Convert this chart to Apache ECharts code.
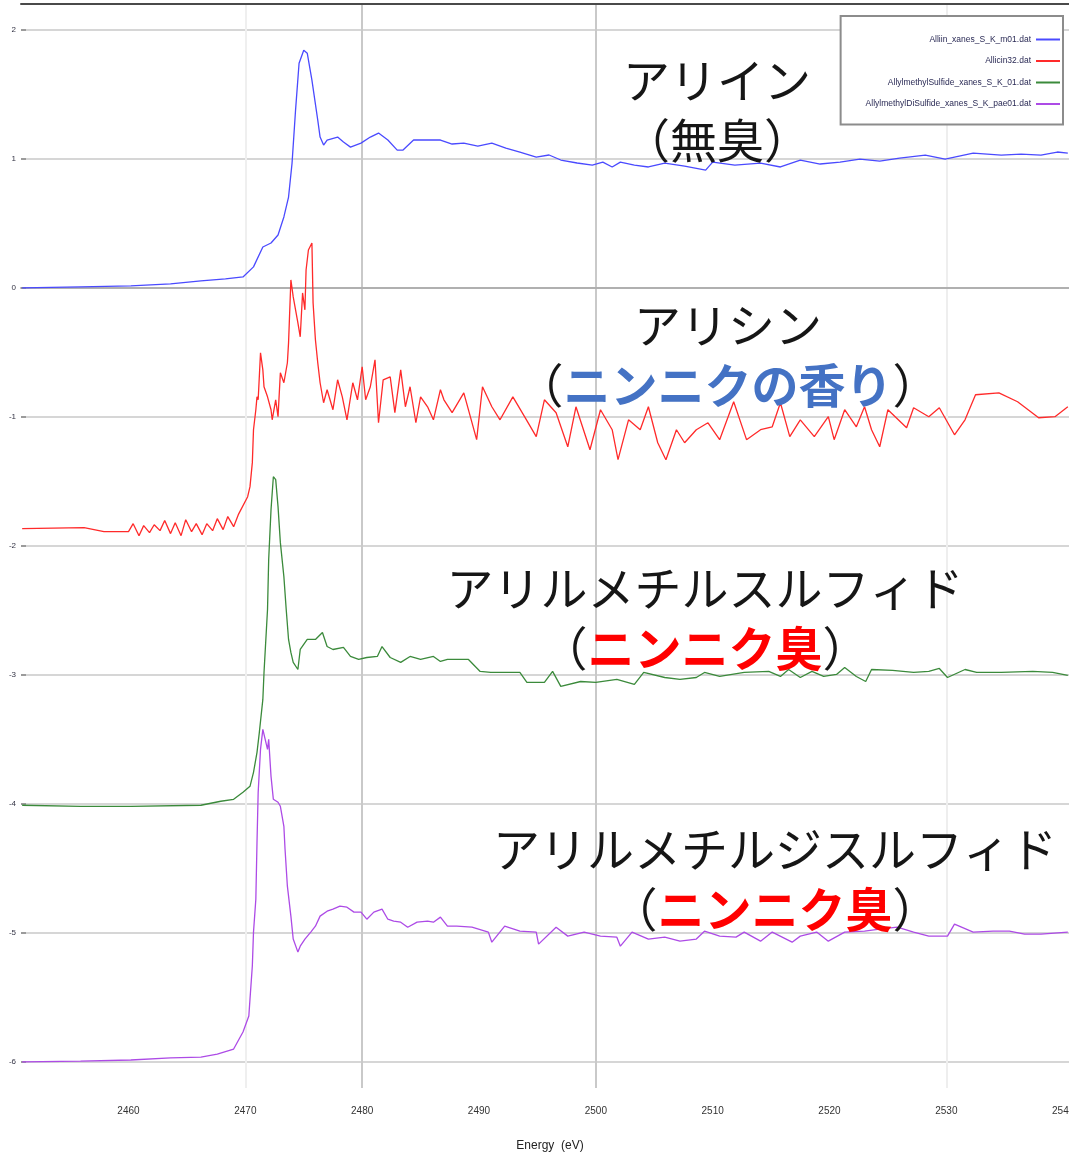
<!DOCTYPE html>
<html>
<head>
<meta charset="utf-8">
<title>S K-edge XANES</title>
<script src="https://cdn.jsdelivr.net/npm/echarts@6/dist/echarts.min.js"></script>
<style>
  html, body { margin: 0; padding: 0; background: #ffffff; overflow: hidden; }
  #chart { width: 1069px; height: 1156px; }
</style>
</head>
<body>
<div id="chart"></div>
<script>
// Axis ticks
const xTicks = [2460, 2470, 2480, 2490, 2500, 2510, 2520, 2530, 2540];
const yTicks = [-6, -5, -4, -3, -2, -1, 0, 1, 2];

// Series names (data files)
const seriesNames = [
  'Alliin_xanes_S_K_m01.dat',
  'Allicin32.dat',
  'AllylmethylSulfide_xanes_S_K_01.dat',
  'AllylmethylDiSulfide_xanes_S_K_pae01.dat'
];

// Alliin (offset 0)
const alliinEnergy = [2450.9, 2455.9, 2460.2, 2463.6, 2466.2, 2468.3, 2469.8, 2470.7, 2471.5, 2472.2, 2472.8, 2473.3, 2473.7, 2474.0, 2474.3, 2474.6, 2475.0, 2475.3, 2475.7, 2476.2, 2476.4, 2476.7, 2477.0, 2477.9, 2478.4, 2479.0, 2479.9, 2480.7, 2481.4, 2482.2, 2483.0, 2483.5, 2484.4, 2485.6, 2486.7, 2487.7, 2488.7, 2489.9, 2491.1, 2492.3, 2493.5, 2494.9, 2496.0, 2497.0, 2498.4, 2499.7, 2500.6, 2501.4, 2502.1, 2503.3, 2504.5, 2505.9, 2507.6, 2509.4, 2510.0, 2511.9, 2514.1, 2515.8, 2517.5, 2519.2, 2520.9, 2522.6, 2524.3, 2526.0, 2528.2, 2529.9, 2532.3, 2534.7, 2536.4, 2538.1, 2539.5, 2540.4];
const alliinAbs = [0.000, 0.008, 0.015, 0.031, 0.054, 0.070, 0.085, 0.163, 0.317, 0.348, 0.410, 0.550, 0.704, 0.967, 1.378, 1.741, 1.842, 1.819, 1.610, 1.300, 1.169, 1.107, 1.146, 1.169, 1.130, 1.091, 1.122, 1.169, 1.200, 1.146, 1.068, 1.068, 1.146, 1.146, 1.146, 1.115, 1.122, 1.099, 1.122, 1.084, 1.053, 1.014, 1.030, 0.991, 0.968, 0.952, 0.975, 0.937, 0.975, 0.952, 0.937, 0.967, 0.944, 0.913, 0.975, 0.952, 0.967, 0.937, 0.991, 0.960, 0.975, 0.998, 0.983, 1.006, 1.029, 0.998, 1.045, 1.029, 1.037, 1.029, 1.053, 1.045];

// Allicin (offset -2)
const allicinEnergy = [2450.9, 2456.2, 2457.9, 2460.0, 2460.4, 2460.9, 2461.3, 2461.8, 2462.2, 2462.7, 2463.1, 2463.6, 2464.0, 2464.5, 2464.9, 2465.4, 2465.8, 2466.3, 2466.7, 2467.2, 2467.6, 2468.1, 2468.5, 2469.0, 2469.4, 2470.2, 2470.4, 2470.6, 2470.7, 2470.9, 2471.0, 2471.1, 2471.3, 2471.5, 2471.6, 2471.9, 2472.2, 2472.3, 2472.6, 2472.8, 2473.0, 2473.3, 2473.6, 2473.7, 2473.9, 2474.1, 2474.5, 2474.7, 2474.9, 2475.1, 2475.2, 2475.4, 2475.7, 2475.8, 2476.0, 2476.2, 2476.4, 2476.7, 2477.0, 2477.5, 2477.9, 2478.3, 2478.7, 2479.2, 2479.6, 2480.0, 2480.3, 2480.7, 2481.1, 2481.4, 2481.8, 2482.4, 2482.8, 2483.3, 2483.7, 2484.1, 2484.6, 2485.0, 2485.6, 2486.1, 2486.7, 2487.0, 2487.7, 2488.7, 2489.8, 2490.3, 2491.1, 2491.8, 2492.9, 2493.9, 2494.9, 2495.6, 2496.6, 2497.6, 2498.3, 2499.5, 2500.4, 2501.4, 2501.9, 2502.8, 2503.8, 2504.5, 2505.3, 2506.0, 2506.9, 2507.6, 2508.6, 2509.6, 2510.6, 2511.8, 2512.9, 2514.1, 2515.1, 2515.8, 2516.6, 2517.5, 2518.7, 2519.9, 2520.4, 2521.3, 2522.3, 2523.0, 2523.6, 2524.3, 2525.0, 2526.6, 2527.2, 2528.5, 2529.4, 2530.7, 2531.6, 2532.5, 2534.5, 2536.1, 2537.9, 2539.3, 2540.4];
const allicinAbs = [-1.865, -1.858, -1.889, -1.889, -1.827, -1.920, -1.842, -1.896, -1.835, -1.881, -1.803, -1.904, -1.819, -1.920, -1.796, -1.889, -1.827, -1.912, -1.827, -1.881, -1.788, -1.873, -1.772, -1.850, -1.757, -1.618, -1.540, -1.354, -1.099, -0.944, -0.844, -0.867, -0.503, -0.635, -0.766, -0.844, -0.944, -1.022, -0.867, -0.998, -0.658, -0.735, -0.580, -0.426, 0.062, -0.070, -0.271, -0.379, -0.039, -0.170, 0.139, 0.294, 0.348, -0.116, -0.402, -0.580, -0.735, -0.890, -0.789, -0.944, -0.712, -0.844, -1.022, -0.735, -0.867, -0.611, -0.867, -0.766, -0.557, -1.045, -0.712, -0.689, -0.967, -0.635, -0.921, -0.766, -1.045, -0.844, -0.921, -1.022, -0.789, -0.867, -0.967, -0.813, -1.176, -0.766, -0.921, -1.022, -0.844, -0.998, -1.153, -0.867, -0.967, -1.231, -0.921, -1.254, -0.944, -1.099, -1.331, -1.022, -1.099, -0.921, -1.200, -1.331, -1.099, -1.200, -1.099, -1.045, -1.176, -0.882, -1.176, -1.099, -1.076, -0.890, -1.153, -1.022, -1.153, -0.998, -1.176, -0.944, -1.076, -0.921, -1.099, -1.231, -0.944, -1.084, -0.929, -0.998, -0.929, -1.138, -1.022, -0.828, -0.813, -0.882, -1.006, -0.998, -0.921];

// Allyl methyl sulfide (offset -4)
const amsEnergy = [2450.9, 2455.9, 2460.2, 2466.2, 2467.9, 2469.0, 2469.8, 2470.4, 2470.7, 2471.0, 2471.2, 2471.5, 2471.6, 2471.9, 2472.0, 2472.2, 2472.4, 2472.6, 2472.8, 2473.0, 2473.3, 2473.5, 2473.7, 2473.9, 2474.1, 2474.5, 2474.7, 2475.3, 2476.0, 2476.6, 2477.0, 2477.5, 2478.4, 2479.0, 2479.7, 2480.4, 2481.3, 2481.7, 2482.4, 2483.3, 2484.1, 2485.0, 2486.1, 2486.7, 2487.3, 2489.1, 2490.1, 2491.0, 2491.8, 2493.5, 2494.1, 2495.6, 2496.3, 2497.0, 2498.7, 2500.0, 2501.8, 2503.3, 2504.1, 2505.9, 2507.2, 2508.6, 2509.3, 2510.6, 2512.7, 2514.8, 2515.8, 2516.5, 2517.5, 2518.5, 2519.5, 2520.6, 2521.3, 2522.3, 2523.1, 2523.6, 2525.4, 2527.2, 2528.5, 2529.4, 2530.1, 2531.6, 2532.6, 2534.7, 2537.4, 2539.1, 2540.4];
const amsAbs = [-4.009, -4.017, -4.017, -4.009, -3.978, -3.963, -3.909, -3.862, -3.754, -3.599, -3.444, -3.189, -2.980, -2.492, -2.105, -1.718, -1.463, -1.486, -1.695, -1.974, -2.237, -2.492, -2.724, -2.825, -2.902, -2.957, -2.802, -2.724, -2.724, -2.670, -2.779, -2.802, -2.786, -2.856, -2.879, -2.864, -2.856, -2.779, -2.864, -2.902, -2.856, -2.879, -2.856, -2.895, -2.879, -2.879, -2.972, -2.980, -2.980, -2.980, -3.057, -3.057, -2.972, -3.088, -3.050, -3.057, -3.034, -3.073, -2.980, -3.019, -3.034, -3.019, -2.980, -3.011, -2.980, -2.972, -3.011, -2.957, -3.019, -2.972, -3.011, -2.995, -2.941, -3.011, -3.050, -2.957, -2.964, -2.980, -2.972, -2.949, -3.019, -2.957, -2.980, -2.980, -2.972, -2.980, -3.003];

// Allyl methyl disulfide (offset -6)
const amdsEnergy = [2450.9, 2455.9, 2460.2, 2463.6, 2466.2, 2467.6, 2469.0, 2469.8, 2470.3, 2470.4, 2470.6, 2470.7, 2470.9, 2471.0, 2471.1, 2471.3, 2471.5, 2471.6, 2471.9, 2472.0, 2472.2, 2472.4, 2472.8, 2473.0, 2473.3, 2473.4, 2473.6, 2473.9, 2474.1, 2474.5, 2474.7, 2475.1, 2475.6, 2476.0, 2476.4, 2477.0, 2477.5, 2478.1, 2478.7, 2479.3, 2479.9, 2480.4, 2481.0, 2481.7, 2482.2, 2482.7, 2483.3, 2483.9, 2484.7, 2485.6, 2486.1, 2486.7, 2487.3, 2488.1, 2489.4, 2490.8, 2491.1, 2492.2, 2493.5, 2494.9, 2495.1, 2496.6, 2497.6, 2499.0, 2500.4, 2501.8, 2502.1, 2503.1, 2504.5, 2505.9, 2507.2, 2508.6, 2509.3, 2510.6, 2512.0, 2512.7, 2514.1, 2515.1, 2516.8, 2517.5, 2518.9, 2519.9, 2521.3, 2523.0, 2524.3, 2525.8, 2527.2, 2528.5, 2530.1, 2530.7, 2532.3, 2534.0, 2535.4, 2536.7, 2538.1, 2540.4];
const amdsAbs = [-5.998, -5.991, -5.983, -5.967, -5.960, -5.937, -5.898, -5.766, -5.642, -5.511, -5.255, -4.992, -4.737, -4.296, -3.909, -3.576, -3.421, -3.406, -3.576, -3.498, -3.785, -3.963, -3.986, -4.017, -4.172, -4.350, -4.636, -4.868, -5.046, -5.147, -5.101, -5.046, -4.992, -4.946, -4.868, -4.830, -4.814, -4.791, -4.799, -4.837, -4.837, -4.892, -4.837, -4.814, -4.892, -4.907, -4.915, -4.954, -4.915, -4.907, -4.915, -4.876, -4.946, -4.946, -4.954, -4.992, -5.070, -4.946, -4.985, -4.992, -5.085, -4.954, -5.023, -4.992, -5.023, -5.031, -5.101, -4.992, -5.046, -5.031, -5.062, -5.046, -4.985, -5.023, -5.031, -4.992, -5.062, -4.992, -5.070, -5.023, -4.992, -5.062, -4.992, -4.985, -4.969, -4.954, -4.992, -5.023, -5.023, -4.930, -4.992, -4.985, -4.985, -5.008, -5.008, -4.992];

const seriesColors = ['#4a4aff', '#ff2a2a', '#3b8a3b', '#ad4be6'];
const seriesEnergy = [alliinEnergy, allicinEnergy, amsEnergy, amdsEnergy];
const seriesAbs = [alliinAbs, allicinAbs, amsAbs, amdsAbs];

function pairs(xs, ys) {
  return xs.map((x, i) => [x, ys[i]]);
}

// Compound labels drawn beside each spectrum
const jpFont = '"Noto Sans CJK JP"';
const rich = {
  k: { fontFamily: jpFont, fontSize: 47, fill: '#161616', lineHeight: 60 },
  b: { fontFamily: jpFont, fontSize: 47, fontWeight: 'bold', fill: '#4472c4', lineHeight: 60 },
  r: { fontFamily: jpFont, fontSize: 47, fontWeight: 'bold', fill: '#ff0000', lineHeight: 60 }
};
function anno(x, y, text) {
  return {
    type: 'text', x: x, y: y, z: 100,
    style: { text: text, rich: rich, fontFamily: jpFont, fontSize: 47, fill: '#161616', align: 'center', verticalAlign: 'middle' }
  };
}

const chart = echarts.init(document.getElementById('chart'), null, { renderer: 'canvas' });

const xMin = 2450.8, xMax = 2540.5;
const gridCol = ['rgba(0,0,0,0)', '#efefef', '#c9c9c9', 'rgba(0,0,0,0)', '#c9c9c9', 'rgba(0,0,0,0)', 'rgba(0,0,0,0)', '#eeeeee', 'rgba(0,0,0,0)'];
const smallFont = '"Liberation Sans"';

chart.setOption({
  animation: false,
  backgroundColor: '#ffffff',
  grid: { left: 21, right: 0, top: 4, bottom: 68, outerBoundsMode: 'none', containLabel: false },
  legend: {
    orient: 'vertical',
    right: 6,
    top: 16,
    align: 'right',
    icon: 'rect',
    itemWidth: 24,
    itemHeight: 2,
    itemGap: 12.5,
    padding: [19, 3, 16, 25],
    borderColor: '#8c8c8c',
    borderWidth: 2,
    backgroundColor: '#ffffff',
    textStyle: { fontFamily: smallFont, fontSize: 8.5, color: '#2a2a55' },
    data: seriesNames
  },
  xAxis: [{
    type: 'value',
    min: xMin,
    max: xMax,
    name: 'Energy  (eV)',
    nameLocation: 'middle',
    nameGap: 52,
    nameTextStyle: { fontFamily: smallFont, fontSize: 12, color: '#222', padding: [0, 0, 0, 10] },
    axisLine: { show: true, lineStyle: { color: '#b0b0b0', width: 2 } },
    axisTick: { show: false, customValues: xTicks },
    axisLabel: { customValues: xTicks, margin: 18, fontFamily: smallFont, fontSize: 10, color: '#333', formatter: (v) => String(v) },
    splitLine: { show: true, lineStyle: { color: gridCol, width: 2 } }
  }, {
    type: 'value',
    position: 'top',
    min: xMin,
    max: xMax,
    axisLine: { show: true, lineStyle: { color: '#4a4a4a', width: 2 } },
    axisTick: { show: false },
    axisLabel: { show: false },
    splitLine: { show: false }
  }],
  yAxis: {
    type: 'value',
    min: -6.2,
    max: 2.2,
    axisLine: { show: false },
    axisTick: { show: true, inside: true, length: 5, customValues: yTicks, lineStyle: { color: '#888', width: 1.5 } },
    axisLabel: { customValues: yTicks, margin: 5, fontFamily: smallFont, fontSize: 8, color: '#334' },
    splitLine: { show: true, lineStyle: { color: '#d6d6d6', width: 2 } }
  },
  series: seriesNames.map((name, i) => ({
    name: name,
    type: 'line',
    xAxisIndex: 0,
    data: pairs(seriesEnergy[i], seriesAbs[i]),
    showSymbol: false,
    symbol: 'none',
    smooth: false,
    color: seriesColors[i],
    lineStyle: { width: 1.3, color: seriesColors[i] }
  })),
  graphic: [
    anno(717, 110, '{k|アリイン}\n{k|（無臭）}'),
    anno(728, 355, '{k|アリシン}\n{k|（}{b|ニンニクの香り}{k|）}'),
    anno(705, 618, '{k|アリルメチルスルフィド}\n{k|（}{r|ニンニク臭}{k|）}'),
    anno(775, 879, '{k|アリルメチルジスルフィド}\n{k|（}{r|ニンニク臭}{k|）}')
  ]
});
</script>
</body>
</html>
